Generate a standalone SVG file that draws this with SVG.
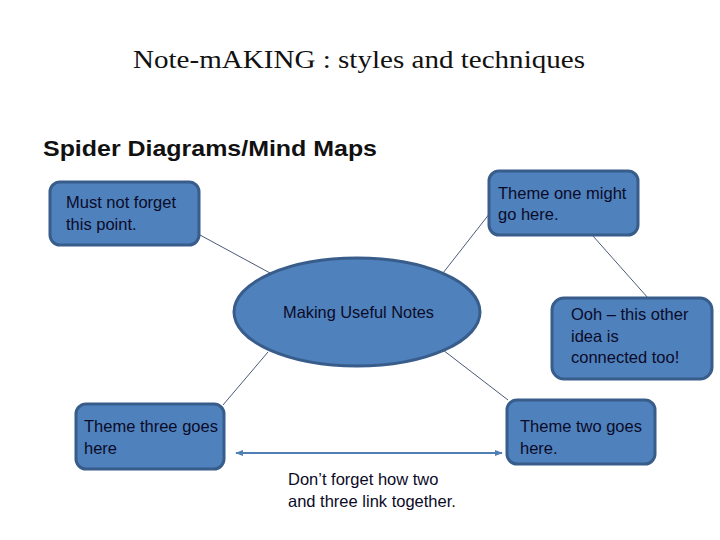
<svg xmlns="http://www.w3.org/2000/svg" width="720" height="540" viewBox="0 0 720 540">
<defs>
<style>
.node{fill:#4F81BD;stroke:#385D8A;stroke-width:3}
.t{font-family:"Liberation Sans",Arial,sans-serif;font-size:16.5px;fill:#0b0b28}
.conn{stroke:#4a5a78;stroke-width:1;fill:none}
.link{stroke:#4F7FB5;stroke-width:2;fill:none}
</style>
<marker id="ah" viewBox="0 0 10 10" refX="9" refY="5" markerWidth="4" markerHeight="4" orient="auto-start-reverse">
<path d="M0,1 L10,5 L0,9 z" fill="#4F7FB5"/>
</marker>
</defs>
<rect width="720" height="540" fill="#ffffff"/>
<text x="359" y="68" text-anchor="middle" font-family="'Liberation Serif','Times New Roman',serif" font-size="25" fill="#111" textLength="452" lengthAdjust="spacingAndGlyphs">Note-mAKING : styles and techniques</text>
<text x="43" y="156" font-family="'Liberation Sans',Arial,sans-serif" font-weight="bold" font-size="22" fill="#111" textLength="334" lengthAdjust="spacingAndGlyphs">Spider Diagrams/Mind Maps</text>
<g id="connectors">
<line class="conn" x1="200" y1="235" x2="270" y2="273"/>
<line class="conn" x1="490" y1="213" x2="443" y2="273"/>
<line class="conn" x1="593" y1="236" x2="648" y2="298"/>
<line class="conn" x1="268" y1="352" x2="223" y2="405"/>
<line class="conn" x1="443" y1="350" x2="508" y2="400"/>
<line class="link" x1="236" y1="453" x2="502" y2="453" marker-start="url(#ah)" marker-end="url(#ah)"/>
</g>
<g id="n-center">
<ellipse class="node" cx="357" cy="312" rx="123" ry="54"/>
<text class="t" x="283" y="318" textLength="151" lengthAdjust="spacingAndGlyphs">Making Useful Notes</text>
</g>
<g id="n-mustnot">
<rect class="node" x="50" y="182" width="149" height="63" rx="10"/>
<text class="t" x="66" y="208">Must not forget</text>
<text class="t" x="66" y="230">this point.</text>
</g>
<g id="n-themeone">
<rect class="node" x="489" y="171" width="149" height="64" rx="10"/>
<text class="t" x="498" y="199">Theme one might</text>
<text class="t" x="498" y="220">go here.</text>
</g>
<g id="n-ooh">
<rect class="node" x="552" y="298" width="160" height="81" rx="12"/>
<text class="t" x="571" y="320">Ooh – this other</text>
<text class="t" x="571" y="342">idea is</text>
<text class="t" x="571" y="363">connected too!</text>
</g>
<g id="n-themethree">
<rect class="node" x="76" y="404" width="148" height="65" rx="10"/>
<text class="t" x="84" y="432">Theme three goes</text>
<text class="t" x="84" y="454">here</text>
</g>
<g id="n-themetwo">
<rect class="node" x="507" y="400" width="148" height="64" rx="10"/>
<text class="t" x="520" y="432">Theme two goes</text>
<text class="t" x="520" y="454">here.</text>
</g>
<g id="note">
<text class="t" x="288" y="485">Don’t forget how two</text>
<text class="t" x="288" y="507">and three link together.</text>
</g>
</svg>
